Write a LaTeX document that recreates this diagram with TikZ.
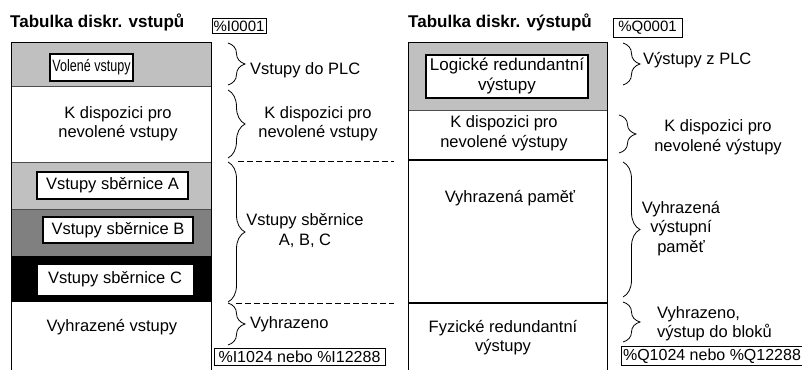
\documentclass[tikz,border=0pt]{standalone}
\usepackage{fontspec}
\setmainfont{Liberation Sans}
\usetikzlibrary{decorations.pathreplacing}

\definecolor{svetla}{HTML}{C0C0C0}
\definecolor{tmava}{HTML}{808080}

\begin{document}
\begin{tikzpicture}[x=1pt,y=-1pt,
	lbl/.style={font=\fontsize{16.5}{19.5}\selectfont,align=center,inner sep=0},
	box/.style={draw,fill=white,line width=1.2pt,inner sep=1pt,font=\fontsize{16.5}{19.5}\selectfont,align=center},
	adr/.style={draw,fill=white,line width=0.8pt,inner xsep=1.5pt,inner ysep=2.5pt,font=\fontsize{15}{18}\selectfont},
	hdr/.style={font=\fontsize{17}{20}\selectfont\bfseries,inner sep=0,anchor=west},
	brc/.style={decorate,decoration={brace,amplitude=17pt},line width=0.8pt},
	sep/.style={dash pattern=on 6pt off 3pt,line width=0.7pt}]
	\useasboundingbox (0,0) rectangle (802,370);

	% vstupy
	\node[hdr] (h1) at (10,22) {Tabulka diskr. vstupů};
	\fill[svetla] (11,42) rectangle (211,86);
	\fill[svetla] (11,162) rectangle (211,209);
	\fill[tmava] (11,209) rectangle (211,256);
	\fill[black] (11,256) rectangle (211,302);
	\draw[line width=0.8pt,tmava!60!black] (11,86) -- (211,86) (11,162) -- (211,162) (11,209) -- (211,209);
	\draw[line width=0.9pt] (11,370) -- (11,42) -- (211,42) -- (211,370);
	\node[box,minimum width=83,minimum height=27] (v1) at (91.5,67.5) {\scalebox{0.76}[1]{Volené vstupy}};
	\node[lbl] (v2) at (118,123.5) {K dispozici pro\\nevolené vstupy};
	\node[box,minimum width=151,minimum height=27] (v3) at (112.5,185.5) {Vstupy sběrnice A};
	\node[box,minimum width=150,minimum height=26] (v4) at (118,230) {Vstupy sběrnice B};
	\node[box,minimum width=156,minimum height=31,line width=0pt] (v5) at (115,279.5) {Vstupy sběrnice C};
	\node[lbl] (v6) at (112,327) {Vyhrazené vstupy};
	\node[adr,minimum width=52] (a1) at (239,26) {\%I0001};
	\node[adr,minimum width=171,font=\fontsize{16}{18}\selectfont] (a2) at (299.5,357) {\%I1024 nebo \%I12288};

	\draw[brc] (228,43) -- (228,85);
	\draw[brc] (228,90) -- (228,158);
	\draw[brc] (228,162) -- (228,302);
	\draw[brc] (228,303) -- (228,345);
	\node[lbl,anchor=west] (p1) at (250,70) {Vstupy do PLC};
	\node[lbl] (p2) at (318,123.5) {K dispozici pro\\nevolené vstupy};
	\node[lbl] (p3) at (305,230.5) {Vstupy sběrnice\\A, B, C};
	\node[lbl,anchor=west] (p4) at (250,324) {Vyhrazeno};
	\coordinate (d1) at (238,161);
	\coordinate (d2) at (394,161);
	\coordinate (d3) at (236,303);
	\coordinate (d4) at (394,303);
	\draw[sep] (d1) -- (d2);
	\draw[sep] (d3) -- (d4);

	% vystupy
	\node[hdr] (h2) at (408,22) {Tabulka diskr. výstupů};
	\fill[svetla] (408,42) rectangle (607,110);
	\draw[line width=0.8pt,tmava!60!black] (408,110) -- (607,110);
	\draw[line width=2.2pt] (408,160) -- (607,160) (408,303) -- (607,303);
	\draw[line width=0.9pt] (408,370) -- (408,42) -- (607,42) -- (607,370);
	\node[box,minimum width=162,minimum height=43,font=\fontsize{17}{20}\selectfont] (w1) at (507,76.5) {Logické redundantní\\výstupy};
	\node[lbl] (w2) at (504,133) {K dispozici pro\\nevolené výstupy};
	\node[lbl] (w3) at (510,198) {Vyhrazená paměť};
	\node[lbl] (w4) at (503,337.5) {Fyzické redundantní\\výstupy};
	\node[adr,minimum width=69] (b1) at (647.5,28) {\%Q0001};
	\node[adr,minimum width=178,font=\fontsize{16}{18}\selectfont] (b2) at (712,356) {\%Q1024 nebo \%Q12288};

	\draw[brc] (623,43) -- (623,85);
	\draw[brc] (619,115) -- (619,153);
	\draw[brc] (623,162) -- (623,297);
	\draw[brc] (623,302) -- (623,342);
	\node[lbl,anchor=west] (q1) at (643,60) {Výstupy z PLC};
	\node[lbl] (q2) at (718,137) {K dispozici pro\\nevolené výstupy};
	\node[lbl] (q3) at (681,228.5) {Vyhrazená\\výstupní\\paměť};
	\node[lbl,align=left,anchor=west] (q4) at (657,323.5) {Vyhrazeno,\\výstup do bloků};
\end{tikzpicture}
\end{document}
